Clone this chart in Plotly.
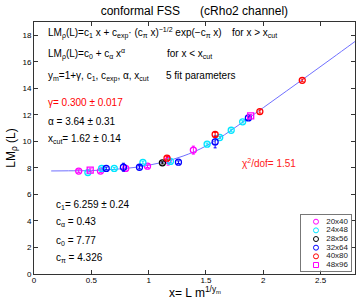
import plotly.graph_objects as go

# ---- data ----
series_names = ["20x40", "24x48", "28x56", "32x64", "40x80", "48x96"]
series_colors = ["#ff00ff", "#00e5ff", "#000000", "#0000ff", "#ff0000", "#ff00ff"]
series_symbols = ["circle-open", "circle-open", "circle-open", "circle-open", "circle-open", "square-open"]

x_20x40 = [0.39, 0.58, 0.80, 0.99, 1.17, 1.39]
y_20x40 = [7.76, 7.76, 7.96, 8.13, 8.56, 9.34]
e_20x40 = [0.10, 0.10, 0.10, 0.10, 0.35, 0.30]

x_24x48 = [0.47, 0.59, 0.70, 0.95, 1.19, 1.51, 1.62, 1.72, 1.82]
y_24x48 = [7.65, 7.96, 7.96, 8.41, 8.49, 9.79, 10.29, 10.84, 11.47]
e_24x48 = [0.10, 0.10, 0.08, 0.10, 0.10, 0.08, 0.08, 0.08, 0.08]

x_28x56 = [1.12]
y_28x56 = [8.38]
e_28x56 = [0.08]

x_32x64 = [0.63, 0.78, 0.92, 1.26, 1.58, 1.87]
y_32x64 = [7.96, 8.05, 8.05, 8.43, 9.96, 11.77]
e_32x64 = [0.10, 0.30, 0.12, 0.10, 0.45, 0.10]

x_40x80 = [1.16, 1.58, 1.97, 2.34]
y_40x80 = [8.73, 10.52, 12.25, 14.60]
e_40x80 = [0.12, 0.15, 0.12, 0.10]

x_48x96 = [0.49, 1.89]
y_48x96 = [7.83, 11.92]
e_48x96 = [0.10, 0.10]

curve_x = [0.15, 0.3, 0.5, 0.7, 0.9, 1.0, 1.1, 1.2, 1.3, 1.4, 1.5, 1.62, 1.8, 2.0, 2.2, 2.4, 2.6, 2.8]
curve_y = [7.77, 7.78, 7.80, 7.89, 8.06, 8.20, 8.38, 8.61, 8.89, 9.23, 9.65, 10.26, 11.32, 12.54, 13.78, 15.02, 16.27, 17.53]

x_ticks = [0, 0.5, 1, 1.5, 2, 2.5]
y_ticks = [0, 2, 4, 6, 8, 10, 12, 14, 16, 18]

series_x = [x_20x40, x_24x48, x_28x56, x_32x64, x_40x80, x_48x96]
series_y = [y_20x40, y_24x48, y_28x56, y_32x64, y_40x80, y_48x96]
series_e = [e_20x40, e_24x48, e_28x56, e_32x64, e_40x80, e_48x96]
legend_rows = [0, 1, 2, 3, 4, 5]

FONT = "Liberation Sans, Arial, Helvetica, sans-serif"

fig = go.Figure()

fig.add_trace(go.Scatter(x=curve_x, y=curve_y, mode="lines", line=dict(color="#7070ff", width=1),
                         line_shape="spline", showlegend=False, hoverinfo="skip"))

for name, col, sym, xs, ys, es in zip(series_names, series_colors, series_symbols, series_x, series_y, series_e):
    fig.add_trace(go.Scatter(
        x=xs, y=ys, mode="markers", name=name, showlegend=False,
        marker=dict(symbol=sym, size=6, color=col, line=dict(color=col, width=1.3)),
        error_y=dict(type="data", array=es, visible=True, color=col, thickness=1, width=1.5),
    ))

# inset legend (drawn on its own small axes)
for row, name, col, sym in zip(legend_rows, series_names, series_colors, series_symbols):
    fig.add_trace(go.Scatter(x=[15], y=[row], mode="markers", xaxis="x2", yaxis="y2", showlegend=False,
                             marker=dict(symbol=sym, size=5, color=col, line=dict(color=col, width=1)),
                             hoverinfo="skip", cliponaxis=False))
fig.add_trace(go.Scatter(x=[47] * len(series_names), y=legend_rows, mode="text", text=series_names,
                         textposition="middle left", textfont=dict(size=8, color="#222", family=FONT),
                         xaxis="x2", yaxis="y2", showlegend=False, hoverinfo="skip", cliponaxis=False))

def ann(x, y, text, color="black", size=10, xanchor="left"):
    fig.add_annotation(x=x, y=y, xref="paper", yref="paper", text=text, showarrow=False,
                       xanchor=xanchor, yanchor="middle", font=dict(size=size, color=color, family=FONT))

ann(0.0374, 0.955, "LM<sub>ρ</sub>(L)=c<sub>1</sub> x + c<sub>exp</sub>· (c<sub>π</sub> x)<sup>−1/2</sup> exp(−c<sub>π</sub> x)")
ann(0.611, 0.955, "for x > x<sub>cut</sub>")
ann(0.0374, 0.872, "LM<sub>ρ</sub>(L)=c<sub>0</sub> + c<sub>α</sub> x<sup>α</sup>")
ann(0.408, 0.872, "for x < x<sub>cut</sub>")
ann(0.0374, 0.782, "y<sub>m</sub>=1+γ, c<sub>1</sub>, c<sub>exp</sub>, α, x<sub>cut</sub>")
ann(0.405, 0.786, "5 fit parameters")
ann(0.0374, 0.679, "γ= 0.300 ± 0.017", color="#ff0000")
ann(0.0374, 0.604, "α = 3.64 ± 0.31")
ann(0.0374, 0.534, "x<sub>cut</sub>= 1.62 ± 0.14")
ann(0.642, 0.44, "χ<sup>2</sup>/dof= 1.51", color="#ff2020")
ann(0.062, 0.272, "c<sub>1</sub>= 6.259 ± 0.24")
ann(0.062, 0.205, "c<sub>α</sub> = 0.43")
ann(0.062, 0.132, "c<sub>0</sub> = 7.77")
ann(0.062, 0.062, "c<sub>π</sub> = 4.326")
# x-axis title
ann(0.50, -0.072, "x= L m<sup>1/y<sub>m</sub></sup>", size=12, xanchor="center")

axis_common = dict(showline=True, linecolor="#333", linewidth=1, mirror="ticks", ticks="inside",
                   ticklen=4, tickcolor="#333", showgrid=False, zeroline=False, automargin=False,
                   tickfont=dict(size=8, color="black", family=FONT))

fig.update_layout(
    width=360, height=300,
    margin=dict(l=34, r=5, t=22, b=26, autoexpand=False),
    paper_bgcolor="white", plot_bgcolor="white",
    title=dict(text="conformal FSS      (cRho2 channel)", x=0.54, xanchor="center", y=0.963, yanchor="middle",
               font=dict(size=12, color="black", family=FONT), automargin=False),
    xaxis=dict(range=[0, 2.8], tickvals=x_ticks, ticktext=[str(v) for v in x_ticks],
               ticklabelstandoff=-2, **axis_common),
    yaxis=dict(range=[0, 19], tickvals=y_ticks, ticktext=[str(v) for v in y_ticks],
               title=dict(text="LM<sub>ρ</sub> (L)", standoff=4,
                          font=dict(size=12, color="black", family=FONT)), **axis_common),
    xaxis2=dict(domain=[0.8318, 0.9875], anchor="y2", range=[0, 50], showline=True, mirror=True,
                linecolor="#777", linewidth=1, showticklabels=False, ticks="", showgrid=False, zeroline=False,
                fixedrange=True, automargin=False),
    yaxis2=dict(domain=[0.013, 0.234], anchor="x2", range=[5.66, -0.77], showline=True, mirror=True,
                linecolor="#777", linewidth=1, showticklabels=False, ticks="", showgrid=False, zeroline=False,
                fixedrange=True, automargin=False),
    showlegend=False,
)

fig.write_html("out.html", config={"displayModeBar": False},
               post_script="document.body.style.margin='0';document.body.style.padding='0';")
